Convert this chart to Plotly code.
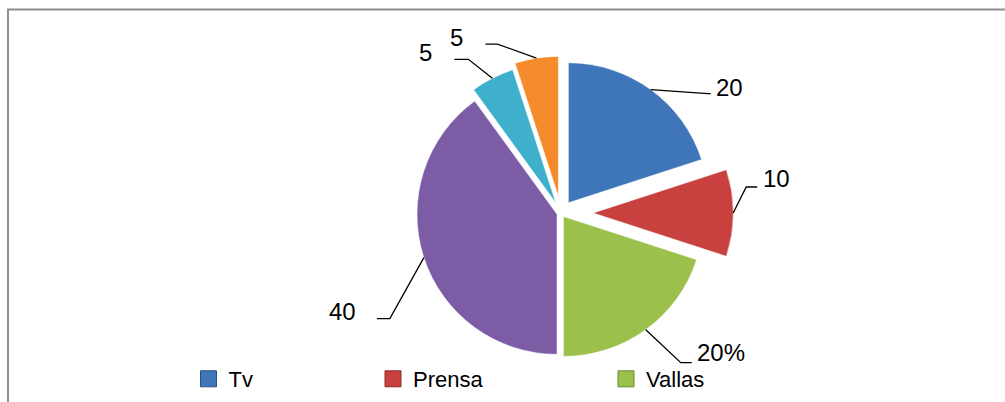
import math
import plotly.graph_objects as go

# ---------------- data ----------------
labels = ["Tv", "Prensa", "Vallas", "Radio", "Internet", "Otros"]
values = [20, 10, 20, 40, 5, 5]
value_text = ["20", "10", "20%", "40", "5", "5"]
pulls = [0.09, 0.23, 0.03, 0.03, 0.08, 0.12]
legend_labels = ["Tv", "Prensa", "Vallas"]

# ---------------- styles ----------------
colors = ["#3F76BA", "#C8413E", "#9BC04C", "#7B5CA5", "#3EB0CB", "#F68B2C"]
edge_colors = ["#2A5286", "#8E2A28", "#6C8A2E", "#56407A", "#2A7F93", "#B8621A"]
FONT = "Liberation Sans, Arial, sans-serif"

W, H = 1005, 402
CX, CY, R = 561, 213, 140          # pie centre / radius in px
half = R * (1 + max(pulls))
dom_x = [(CX - 200) / W, (CX + 200) / W]
dom_y = [1 - (CY + half) / H, 1 - (CY - half) / H]

# leader-line layout per slice (px): elbow offset from arc point, horizontal run,
# text offset from end of line, text anchor
elbow = [(57, 4), (13, -26), (35, 33), (-34, 61), (-24, -19), (-39, -14)]
run = [3, 11, 11, -13, -14, -12]
text_off = [(3, -6), (4, -9), (3, -10), (-19, -7), (-20, -7), (-20, -7)]
anchors = ["left", "left", "left", "right", "right", "right"]

legend_x_px = [188.5, 373, 606]
legend_y_px = 379


def px(x):
    return x / W


def py(y):
    return 1 - y / H


fig = go.Figure()
fig.add_trace(go.Pie(
    labels=labels, values=values, pull=pulls, sort=False, direction="clockwise",
    rotation=0, textinfo="none", hoverinfo="label+value",
    marker=dict(colors=colors, line=dict(color="rgba(255,255,255,0.6)", width=0.8)),
    domain=dict(x=dom_x, y=dom_y), showlegend=False,
))

total = sum(values)
cum = 0
shapes = []
annotations = []
for i, v in enumerate(values):
    theta = math.radians(360 * (cum + v / 2) / total)
    cum += v
    d = R * (1 + pulls[i])
    ax_, ay_ = CX + d * math.sin(theta), CY - d * math.cos(theta)
    ex, ey = ax_ + elbow[i][0], ay_ + elbow[i][1]
    hx, hy = ex + run[i], ey
    shapes.append(dict(
        type="path", xref="paper", yref="paper",
        path=f"M {px(ax_)} {py(ay_)} L {px(ex)} {py(ey)} L {px(hx)} {py(hy)}",
        line=dict(color="black", width=1.3),
    ))
    annotations.append(dict(
        x=px(hx + text_off[i][0]), y=py(hy + text_off[i][1]), xref="paper", yref="paper",
        text=value_text[i], showarrow=False, xanchor=anchors[i], yanchor="middle",
        font=dict(family=FONT, size=24, color="black"),
    ))

# chart border (extends beyond the visible window to the right and bottom)
shapes.append(dict(type="rect", xref="paper", yref="paper",
                   x0=px(8), x1=1.2, y0=-0.5, y1=py(9.5),
                   line=dict(color="#8E8E8E", width=2), layer="below"))

legend_names = ["legend", "legend2", "legend3"]
for i, name in enumerate(legend_labels):
    fig.add_trace(go.Scatter(
        x=[None], y=[None], mode="markers", name=name, legend=legend_names[i],
        marker=dict(symbol="square", size=16, color=colors[i],
                    line=dict(color=edge_colors[i], width=1)),
        showlegend=True, hoverinfo="skip",
    ))

leg_common = dict(yanchor="middle", xanchor="left", orientation="h",
                  bgcolor="rgba(0,0,0,0)", borderwidth=0,
                  font=dict(family=FONT, size=22, color="black"))
fig.update_layout(
    width=W, height=H, autosize=False,
    margin=dict(l=0, r=0, t=0, b=0, pad=0),
    paper_bgcolor="white", plot_bgcolor="white",
    xaxis=dict(visible=False), yaxis=dict(visible=False),
    shapes=shapes, annotations=annotations,
    legend=dict(x=px(legend_x_px[0]), y=py(legend_y_px), **leg_common),
    legend2=dict(x=px(legend_x_px[1]), y=py(legend_y_px), **leg_common),
    legend3=dict(x=px(legend_x_px[2]), y=py(legend_y_px), **leg_common),
    font=dict(family=FONT),
)

fig.write_html("out.html", config={"displayModeBar": False},
               post_script="document.body.style.margin='0';document.body.style.overflow='hidden';")
